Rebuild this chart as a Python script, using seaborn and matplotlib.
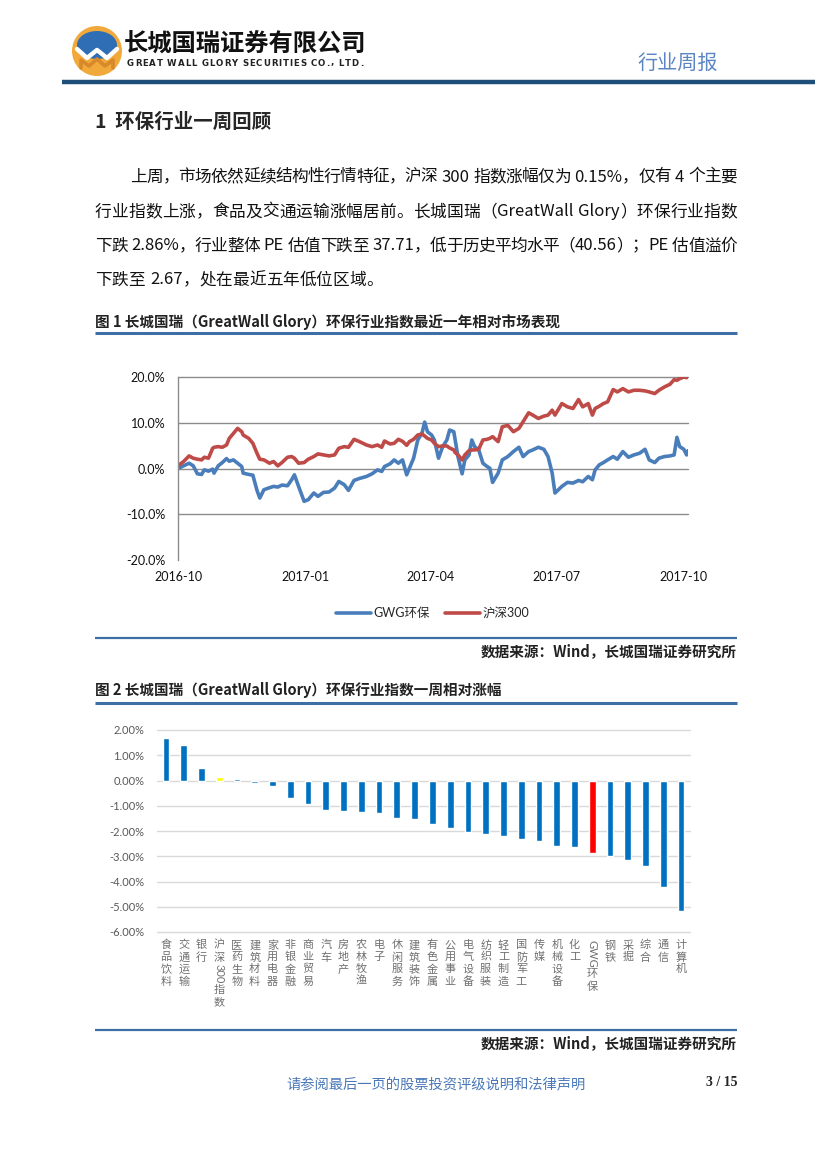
import re
import numpy as np
import pandas as pd
import matplotlib
matplotlib.use("Agg")
import matplotlib.pyplot as plt
import matplotlib.dates as mdates
from matplotlib import patches
from matplotlib.ticker import PercentFormatter
from matplotlib.transforms import blended_transform_factory
import seaborn as sns

# ---- Figure 1: index performance over the last year (cumulative %)
start_date = "2016-10-01"
days_from_start = [
    0, 4, 8, 11, 14, 17, 19, 22, 25, 26,
    29, 32, 35, 37, 40, 43, 46, 47, 51, 54,
    57, 59, 62, 66, 69, 72, 75, 79, 82, 84,
    87, 91, 94, 98, 101, 105, 109, 113, 116, 120,
    123, 127, 131, 136, 140, 144, 147, 149, 153, 156,
    159, 162, 165, 167, 170, 173, 176, 178, 180, 183,
    185, 188, 191, 194, 196, 199, 200, 202, 205, 207,
    210, 212, 214, 217, 220, 223, 225, 227, 231, 234,
    238, 242, 246, 249, 253, 256, 260, 264, 267, 270,
    272, 277, 281, 285, 289, 292, 296, 299, 301, 304,
    307, 310, 314, 317, 321, 325, 329, 333, 337, 340,
    344, 347, 351, 355, 358, 360, 362, 365, 367, 368,
]
gwg_env = [
    0.00, 0.58, 1.16, 0.58, -1.16, -1.30, -0.29, -0.58, -0.14, -1.01,
    0.58, 1.30, 2.17, 1.59, 1.88, 1.16, 0.43, -1.01, -1.30, -1.45,
    -4.78, -6.45, -4.64, -4.20, -3.91, -4.06, -3.62, -3.77, -2.46, -1.38,
    -3.91, -7.17, -6.81, -5.36, -6.09, -5.22, -5.14, -4.28, -2.83, -3.55,
    -4.78, -2.61, -2.17, -1.74, -1.16, -0.29, -0.65, 0.43, 1.01, 1.88,
    1.16, 1.88, -1.38, 0.07, 2.25, 6.23, 7.68, 10.14, 8.04, 7.32,
    6.23, 2.25, 4.78, 6.23, 8.41, 8.04, 6.23, 2.61, -1.16, 1.88,
    2.97, 6.23, 4.78, 4.06, 1.16, 0.43, 0.07, -3.04, -1.01, 1.88,
    2.61, 3.70, 4.64, 2.61, 3.70, 4.06, 4.64, 4.20, 2.61, -1.01,
    -5.36, -3.91, -3.04, -3.19, -2.61, -2.90, -1.74, -2.46, -0.29, 0.80,
    1.30, 1.88, 2.61, 2.03, 3.70, 2.46, 2.97, 3.33, 4.20, 1.88,
    1.30, 2.25, 2.61, 2.75, 2.97, 6.81, 4.78, 4.20, 2.97, 3.91,
]
hs300 = [
    0.58, 1.52, 2.75, 2.25, 2.03, 1.88, 2.46, 2.25, 4.42, 4.64,
    4.78, 4.64, 5.14, 6.59, 7.68, 8.77, 8.04, 7.32, 6.59, 5.51,
    3.33, 2.03, 1.88, 1.16, 1.52, 0.58, 1.30, 2.46, 2.61, 2.25,
    1.16, 1.30, 2.03, 2.61, 3.19, 2.97, 2.75, 2.97, 4.42, 4.78,
    4.64, 6.38, 5.87, 5.14, 4.78, 5.14, 4.64, 6.01, 5.36, 5.51,
    6.38, 5.94, 5.07, 5.87, 6.38, 7.32, 7.54, 7.10, 6.59, 6.23,
    5.51, 4.78, 4.93, 4.93, 4.49, 4.06, 3.48, 2.97, 1.88, 2.97,
    3.91, 4.06, 4.06, 4.20, 6.23, 6.38, 6.59, 6.96, 5.87, 9.13,
    9.42, 8.04, 8.77, 10.22, 12.17, 11.67, 10.94, 11.45, 11.67, 12.75,
    11.67, 14.20, 13.48, 13.12, 15.07, 13.48, 14.20, 11.67, 13.12, 13.62,
    14.20, 14.57, 17.25, 16.74, 17.46, 16.74, 17.10, 17.10, 16.96, 16.74,
    16.38, 17.10, 17.83, 18.41, 19.42, 19.28, 19.64, 20.00, 19.86, 20.00,
]
series_names = ["GWG环保", "沪深300"]
series_colors = ["#4A7EBB", "#BE4B48"]

# ---- Figure 2: weekly change by industry (%)
industries = [
    "食品饮料", "交通运输", "银行", "沪深300指数", "医药生物", "建筑材料",
    "家用电器", "非银金融", "商业贸易", "汽车", "房地产", "农林牧渔",
    "电子", "休闲服务", "建筑装饰", "有色金属", "公用事业", "电气设备",
    "纺织服装", "轻工制造", "国防军工", "传媒", "机械设备", "化工",
    "GWG环保", "钢铁", "采掘", "综合", "通信", "计算机",
]
weekly_change = [
    1.67, 1.39, 0.48, 0.15, 0.05, -0.09,
    -0.21, -0.68, -0.95, -1.17, -1.21, -1.23,
    -1.27, -1.48, -1.54, -1.71, -1.88, -2.04,
    -2.11, -2.20, -2.32, -2.40, -2.60, -2.62,
    -2.86, -2.98, -3.15, -3.39, -4.22, -5.18,
]
bar_blue = "#0070C0"
bar_highlight = {"沪深300指数": "#FFFF00", "GWG环保": "#FF0000"}

# ---- page text
company_cn = "长城国瑞证券有限公司"
company_en = "GREAT WALL GLORY SECURITIES CO., LTD."
report_type = "行业周报"
section_title = "1  环保行业一周回顾"
paragraph_lines = [
    "上周，市场依然延续结构性行情特征，沪深 300 指数涨幅仅为 0.15%，仅有 4 个主要",
    "行业指数上涨，食品及交通运输涨幅居前。长城国瑞（GreatWall Glory）环保行业指数",
    "下跌 2.86%，行业整体 PE 估值下跌至 37.71，低于历史平均水平（40.56）；PE 估值溢价",
    "下跌至 2.67，处在最近五年低位区域。",
]
fig1_title = "图 1 长城国瑞（GreatWall Glory）环保行业指数最近一年相对市场表现"
fig2_title = "图 2 长城国瑞（GreatWall Glory）环保行业指数一周相对涨幅"
source_note = "数据来源：Wind，长城国瑞证券研究所"
footer_note = "请参阅最后一页的股票投资评级说明和法律声明"
page_no = "3 / 15"

W, H = 827, 1169
sns.set_theme(style="white")
plt.rcParams["font.family"] = ["Lato", "Noto Sans CJK SC", "DejaVu Sans"]
plt.rcParams["axes.unicode_minus"] = False
CJK = ["Noto Sans CJK SC", "DejaVu Sans"]
RULE = "#3D6FA5"

fig = plt.figure(figsize=(W / 100, H / 100), dpi=100)
fig.patch.set_facecolor("white")

# full-page overlay in pixel units for header, text and rules
page = fig.add_axes([0, 0, 1, 1])
page.set_xlim(0, W)
page.set_ylim(H, 0)
page.axis("off")
renderer = fig.canvas.get_renderer()


def place_line(text, x0, y, x1=None, fs=12, per_char=False, **kw):
    """Place a line token by token; spread it to x1 if given (justified)."""
    em = fs * 100 / 72
    pattern = r"." if per_char else r"[!-~]+| |[^!-~ ]"
    items = []
    for tok in re.findall(pattern, text):
        if tok == " ":
            items.append((None, 0.3 * em))
        elif re.match(r"[!-~]", tok):
            t = page.text(0, y, tok, fontsize=fs, va="center", ha="left", **kw)
            items.append((t, t.get_window_extent(renderer).width))
        else:
            t = page.text(0, y, tok, fontsize=fs, va="center", ha="left", **kw)
            items.append((t, em))
    total = sum(w for _, w in items)
    gap = 0 if x1 is None else (x1 - x0 - total) / (len(items) - 1)
    x = x0
    for t, w in items:
        if t is not None:
            t.set_x(x)
        x += w + gap


# ---- header
page.add_patch(patches.Circle((97, 51), 25, fc="#F2A93B", ec="none"))
page.add_patch(patches.Ellipse((97, 45), 40, 28, fc="#2F6DB5", ec="none"))
page.plot([77, 87, 97, 107, 117], [49, 58, 50, 58, 49], color="white", lw=3.2, solid_capstyle="round")
page.plot([81, 81, 89, 97, 105, 113, 113], [68, 60, 66, 59, 66, 60, 68], color="#D8892A", lw=2.6)
page.text(124, 45, company_cn, fontsize=17.5, fontweight="bold", family=CJK, va="center", color="#111111")
place_line(company_en, 127, 63, 363, fs=6.2, per_char=True, family=["DejaVu Sans"],
           fontweight="bold", color="#222222")
page.text(718, 63, report_type, fontsize=14.5, ha="right", va="center", family=CJK, color="#5B86C2")
page.plot([62, 815], [82, 82], color="#1F4E79", lw=3.2, solid_capstyle="butt")

# ---- section text
page.text(95, 122, section_title, fontsize=14, fontweight="bold", family=CJK, va="center")
line_y = [177, 212, 246, 280]
for i, (txt, y) in enumerate(zip(paragraph_lines, line_y)):
    x0 = 130 if i == 0 else 95
    x1 = 737 if i < len(paragraph_lines) - 1 else None
    place_line(txt, x0, y, x1, fs=12, family=CJK, color="#111111")

for y_title, y_rule, title in [(322, 333, fig1_title), (690, 703, fig2_title)]:
    page.text(95, y_title, title, fontsize=10.5, fontweight="bold", family=CJK, va="center", color="#222222")
    page.plot([95, 737], [y_rule, y_rule], color=RULE, lw=2.2, solid_capstyle="butt")

for y_rule, y_src in [(638, 651), (1030, 1043)]:
    page.plot([95, 737], [y_rule, y_rule], color=RULE, lw=1.6, solid_capstyle="butt")
    page.text(737, y_src, source_note, fontsize=10.5, fontweight="bold", family=CJK, ha="right", va="center", color="#222222")

page.text(436, 1084, footer_note, fontsize=10.3, ha="center", va="center", family=CJK, color="#4A78B8")
page.text(737, 1082, page_no, fontsize=10, ha="right", va="center", family=["Liberation Serif"], fontweight="bold")

# ---- Figure 1: line chart
ax1 = fig.add_axes([178 / W, 1 - 560 / H, 510 / W, 183 / H])
dates = pd.to_datetime(start_date) + pd.to_timedelta(days_from_start, unit="D")
df1 = pd.DataFrame({"date": dates, series_names[0]: gwg_env, series_names[1]: hs300})
df1 = df1.melt(id_vars="date", var_name="series", value_name="value")
sns.lineplot(data=df1, x="date", y="value", hue="series", hue_order=series_names,
             palette=dict(zip(series_names, series_colors)), lw=2.6, ax=ax1)
ax1.set_ylim(-20, 20)
ax1.set_yticks([-20, -10, 0, 10, 20])
for v in ax1.get_yticks()[1:]:
    ax1.axhline(v, color="#8C8C8C", lw=1, zorder=0, clip_on=False)
ax1.set_xlim(dates.min(), dates.max())
ax1.xaxis.set_major_locator(mdates.MonthLocator(bymonth=[1, 4, 7, 10]))
ax1.xaxis.set_major_formatter(mdates.DateFormatter("%Y-%m"))
ax1.yaxis.set_major_formatter(PercentFormatter(decimals=1))
ax1.set_xlabel("")
ax1.set_ylabel("")
ax1.tick_params(axis="both", length=0, labelsize=9, labelcolor="#111111")
ax1.tick_params(axis="y", pad=9)
ax1.tick_params(axis="x", pad=8)
for side in ["top", "right", "bottom"]:
    ax1.spines[side].set_visible(False)
ax1.spines["left"].set_color("#8C8C8C")
ax1.spines["left"].set_linewidth(1)
sns.move_legend(ax1, loc="center", bbox_to_anchor=(0.5, -0.29), ncol=2, frameon=False,
                title=None, fontsize=9, handlelength=2.8, handletextpad=0.2, columnspacing=1.2)

# ---- Figure 2: bar chart
ax2 = fig.add_axes([157 / W, 1 - 932 / H, 533 / W, 202 / H])
bar_colors = [bar_highlight.get(name, bar_blue) for name in industries]
sns.barplot(x=industries, y=weekly_change, hue=industries, palette=bar_colors, legend=False,
            width=0.38, saturation=1, ax=ax2, zorder=3)
ax2.set_xlim(-0.5, len(industries) - 0.5)
ax2.set_ylim(-6, 2)
ax2.set_yticks(np.arange(-6, 2.5, 1))
for v in ax2.get_yticks():
    ax2.axhline(v, color="#D9D9D9", lw=1, zorder=0, clip_on=False)
ax2.yaxis.set_major_formatter(PercentFormatter(decimals=2))
ax2.tick_params(axis="y", length=0, labelsize=8, labelcolor="#595959", pad=9)
ax2.set_xticks([])
for side in ["top", "right", "bottom", "left"]:
    ax2.spines[side].set_visible(False)

# vertical category labels: one CJK glyph per line, Latin runs rotated
label_tf = blended_transform_factory(ax2.transData, page.transData)
pitch = 12.2
for i, name in enumerate(industries):
    y = 940
    for tok in re.findall(r"[A-Za-z0-9]+|.", name):
        if re.match(r"[A-Za-z0-9]", tok):
            t = page.text(i, y, tok, rotation=270, ha="center", va="top", fontsize=8,
                          color="#707070", transform=label_tf)
            y += t.get_window_extent(renderer).height + 1.5
        else:
            page.text(i, y, tok, ha="center", va="top", fontsize=8, family=CJK,
                      color="#707070", transform=label_tf)
            y += pitch

fig.savefig("out.png", dpi=100, facecolor="white")
